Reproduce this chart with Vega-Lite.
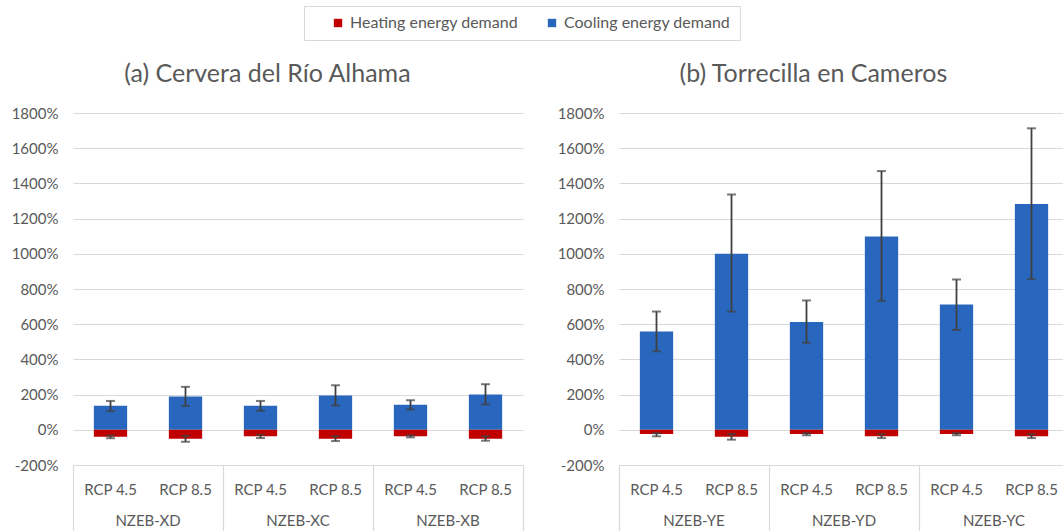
{
  "$schema": "https://vega.github.io/schema/vega-lite/v6.json",
  "padding": {"left": 11, "top": 5, "right": 0, "bottom": 0},
  "background": "white",
  "config": {
    "font": "Lato",
    "view": {"stroke": null},
    "axis": {"labelFont": "Lato", "labelColor": "#595959", "labelFontSize": 15, "gridColor": "#d9d9d9", "gridWidth": 1.2, "domain": false, "ticks": false, "tickSize": 0, "title": null, "labelOverlap": false},
    "title": {"font": "Lato", "fontSize": 25, "fontWeight": "normal", "color": "#595959", "anchor": "middle", "frame": "bounds", "offset": 19},
    "legend": {"orient": "none", "legendX": 231, "legendY": -107, "direction": "horizontal", "symbolType": "square", "symbolSize": 70, "symbolStrokeWidth": 0, "labelFont": "Lato", "labelFontSize": 16, "labelColor": "#595959", "labelLimit": 400, "strokeColor": "#d9d9d9", "padding": 9, "columnPadding": 26, "titleOrient": "left", "titlePadding": 17}
  },
  "datasets": {
    "d": [
      {"panel": "a", "group": "NZEB-XD", "cat": "NZEB-XD|RCP 4.5", "type": "Cooling energy demand", "value": 136, "lo": 106, "hi": 164},
      {"panel": "a", "group": "NZEB-XD", "cat": "NZEB-XD|RCP 4.5", "type": "Heating energy demand", "value": -40, "lo": -48, "hi": -32},
      {"panel": "a", "group": "NZEB-XD", "cat": "NZEB-XD|RCP 8.5", "type": "Cooling energy demand", "value": 189, "lo": 136, "hi": 244},
      {"panel": "a", "group": "NZEB-XD", "cat": "NZEB-XD|RCP 8.5", "type": "Heating energy demand", "value": -51, "lo": -68, "hi": -34},
      {"panel": "a", "group": "NZEB-XC", "cat": "NZEB-XC|RCP 4.5", "type": "Cooling energy demand", "value": 136, "lo": 108, "hi": 164},
      {"panel": "a", "group": "NZEB-XC", "cat": "NZEB-XC|RCP 4.5", "type": "Heating energy demand", "value": -36, "lo": -47, "hi": -28},
      {"panel": "a", "group": "NZEB-XC", "cat": "NZEB-XC|RCP 8.5", "type": "Cooling energy demand", "value": 195, "lo": 138, "hi": 253},
      {"panel": "a", "group": "NZEB-XC", "cat": "NZEB-XC|RCP 8.5", "type": "Heating energy demand", "value": -51, "lo": -64, "hi": -36},
      {"panel": "a", "group": "NZEB-XB", "cat": "NZEB-XB|RCP 4.5", "type": "Cooling energy demand", "value": 142, "lo": 115, "hi": 168},
      {"panel": "a", "group": "NZEB-XB", "cat": "NZEB-XB|RCP 4.5", "type": "Heating energy demand", "value": -36, "lo": -43, "hi": -31},
      {"panel": "a", "group": "NZEB-XB", "cat": "NZEB-XB|RCP 8.5", "type": "Cooling energy demand", "value": 200, "lo": 144, "hi": 259},
      {"panel": "a", "group": "NZEB-XB", "cat": "NZEB-XB|RCP 8.5", "type": "Heating energy demand", "value": -51, "lo": -62, "hi": -36},
      {"panel": "b", "group": "NZEB-YE", "cat": "NZEB-YE|RCP 4.5", "type": "Cooling energy demand", "value": 559, "lo": 446, "hi": 672},
      {"panel": "b", "group": "NZEB-YE", "cat": "NZEB-YE|RCP 4.5", "type": "Heating energy demand", "value": -24, "lo": -37, "hi": -19},
      {"panel": "b", "group": "NZEB-YE", "cat": "NZEB-YE|RCP 8.5", "type": "Cooling energy demand", "value": 1000, "lo": 672, "hi": 1337},
      {"panel": "b", "group": "NZEB-YE", "cat": "NZEB-YE|RCP 8.5", "type": "Heating energy demand", "value": -40, "lo": -56, "hi": -24},
      {"panel": "b", "group": "NZEB-YD", "cat": "NZEB-YD|RCP 4.5", "type": "Cooling energy demand", "value": 612, "lo": 495, "hi": 735},
      {"panel": "b", "group": "NZEB-YD", "cat": "NZEB-YD|RCP 4.5", "type": "Heating energy demand", "value": -24, "lo": -31, "hi": -19},
      {"panel": "b", "group": "NZEB-YD", "cat": "NZEB-YD|RCP 8.5", "type": "Cooling energy demand", "value": 1099, "lo": 733, "hi": 1470},
      {"panel": "b", "group": "NZEB-YD", "cat": "NZEB-YD|RCP 8.5", "type": "Heating energy demand", "value": -36, "lo": -47, "hi": -24},
      {"panel": "b", "group": "NZEB-YC", "cat": "NZEB-YC|RCP 4.5", "type": "Cooling energy demand", "value": 712, "lo": 567, "hi": 854},
      {"panel": "b", "group": "NZEB-YC", "cat": "NZEB-YC|RCP 4.5", "type": "Heating energy demand", "value": -24, "lo": -31, "hi": -19},
      {"panel": "b", "group": "NZEB-YC", "cat": "NZEB-YC|RCP 8.5", "type": "Cooling energy demand", "value": 1283, "lo": 856, "hi": 1713},
      {"panel": "b", "group": "NZEB-YC", "cat": "NZEB-YC|RCP 8.5", "type": "Heating energy demand", "value": -36, "lo": -47, "hi": -24}
    ]
  },
  "spacing": 33,
  "resolve": {"scale": {"color": "shared"}},
  "hconcat": [
    {
      "width": 450,
      "height": 352,
      "title": {"text": "(a) Cervera del Río Alhama"},
      "data": {"name": "d"},
      "transform": [{"filter": "datum.panel == 'a'"}],
      "resolve": {"scale": {"x": "independent"}, "axis": {"x": "independent"}},
      "layer": [
        {
          "encoding": {
            "x": {"field": "cat", "type": "nominal", "sort": null, "scale": {"type": "band", "paddingInner": 0.556, "paddingOuter": 0.278}, "axis": {"orient": "bottom", "labelExpr": "split(datum.label, '|')[1]", "labelPadding": 17, "labelAngle": 0, "grid": false}},
            "y": {"field": "value", "type": "quantitative", "stack": null, "scale": {"domain": [-200, 1800], "nice": false}, "axis": {"values": [-200, 0, 200, 400, 600, 800, 1000, 1200, 1400, 1600, 1800], "tickCount": 11, "labelExpr": "datum.value + '%'", "labelPadding": 15, "grid": true}}
          },
          "layer": [
            {
              "mark": {"type": "bar"},
              "encoding": {
                "color": {"field": "type", "type": "nominal", "scale": {"domain": ["Heating energy demand", "Cooling energy demand"], "range": ["#C00000", "#2966BE"]}, "legend": {"title": " "}}
              }
            },
            {
              "mark": {"type": "rule", "color": "#404040", "strokeWidth": 1.8},
              "encoding": {
                "y": {"field": "lo", "type": "quantitative"},
                "y2": {"field": "hi"}
              }
            },
            {
              "mark": {"type": "tick", "color": "#404040", "size": 9, "thickness": 2},
              "encoding": {"y": {"field": "lo", "type": "quantitative"}}
            },
            {
              "mark": {"type": "tick", "color": "#404040", "size": 9, "thickness": 2},
              "encoding": {"y": {"field": "hi", "type": "quantitative"}}
            }
          ]
        },
        {
          "mark": {"type": "point", "opacity": 0},
          "encoding": {
            "x": {"field": "group", "type": "nominal", "sort": null, "scale": {"type": "band", "paddingInner": 0, "paddingOuter": 0}, "axis": {"orient": "bottom", "bandPosition": 1, "tickExtra": true, "ticks": true, "tickSize": 70, "tickColor": "#d9d9d9", "tickWidth": 1.2, "labelPadding": -22, "labelAngle": 0, "grid": false}}
          }
        }
      ]
    },
    {
      "width": 450,
      "height": 352,
      "title": {"text": "(b) Torrecilla en Cameros"},
      "data": {"name": "d"},
      "transform": [{"filter": "datum.panel == 'b'"}],
      "resolve": {"scale": {"x": "independent"}, "axis": {"x": "independent"}},
      "layer": [
        {
          "encoding": {
            "x": {"field": "cat", "type": "nominal", "sort": null, "scale": {"type": "band", "paddingInner": 0.556, "paddingOuter": 0.278}, "axis": {"orient": "bottom", "labelExpr": "split(datum.label, '|')[1]", "labelPadding": 17, "labelAngle": 0, "grid": false}},
            "y": {"field": "value", "type": "quantitative", "stack": null, "scale": {"domain": [-200, 1800], "nice": false}, "axis": {"values": [-200, 0, 200, 400, 600, 800, 1000, 1200, 1400, 1600, 1800], "tickCount": 11, "labelExpr": "datum.value + '%'", "labelPadding": 15, "grid": true}}
          },
          "layer": [
            {
              "mark": {"type": "bar"},
              "encoding": {
                "color": {"field": "type", "type": "nominal", "scale": {"domain": ["Heating energy demand", "Cooling energy demand"], "range": ["#C00000", "#2966BE"]}, "legend": {"title": " "}}
              }
            },
            {
              "mark": {"type": "rule", "color": "#404040", "strokeWidth": 1.8},
              "encoding": {
                "y": {"field": "lo", "type": "quantitative"},
                "y2": {"field": "hi"}
              }
            },
            {
              "mark": {"type": "tick", "color": "#404040", "size": 9, "thickness": 2},
              "encoding": {"y": {"field": "lo", "type": "quantitative"}}
            },
            {
              "mark": {"type": "tick", "color": "#404040", "size": 9, "thickness": 2},
              "encoding": {"y": {"field": "hi", "type": "quantitative"}}
            }
          ]
        },
        {
          "mark": {"type": "point", "opacity": 0},
          "encoding": {
            "x": {"field": "group", "type": "nominal", "sort": null, "scale": {"type": "band", "paddingInner": 0, "paddingOuter": 0}, "axis": {"orient": "bottom", "bandPosition": 1, "tickExtra": true, "ticks": true, "tickSize": 70, "tickColor": "#d9d9d9", "tickWidth": 1.2, "labelPadding": -22, "labelAngle": 0, "grid": false}}
          }
        }
      ]
    }
  ]
}
